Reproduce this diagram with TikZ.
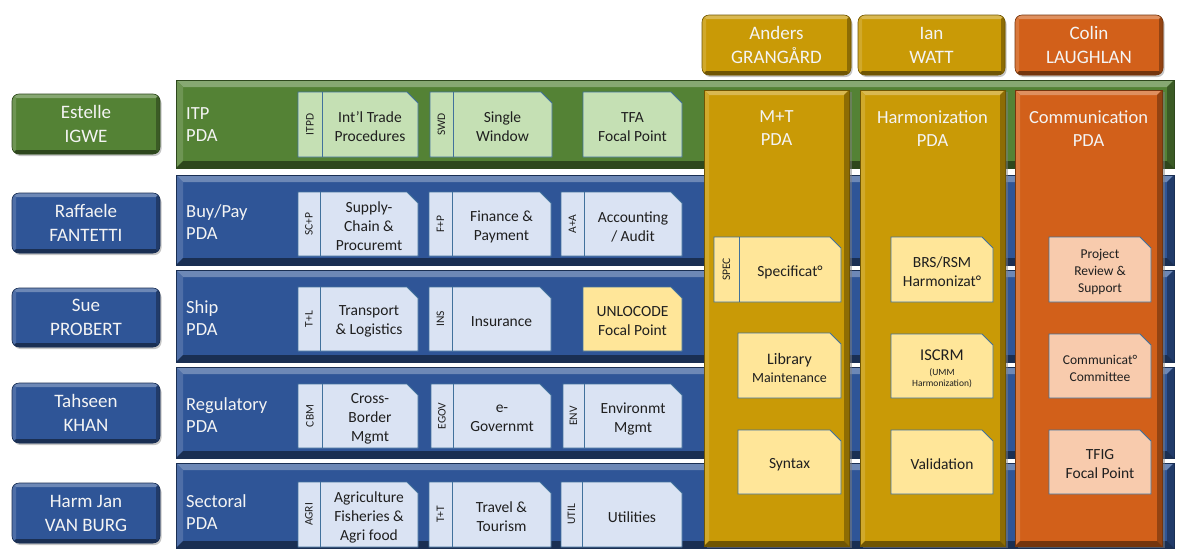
\documentclass[tikz,border=0pt]{standalone}
\usepackage{fontspec}
\setmainfont{Carlito}
\usetikzlibrary{shadows}
\definecolor{cgreen}{RGB}{84,130,53}
\definecolor{cblue}{RGB}{47,85,151}
\definecolor{cgold}{RGB}{201,154,6}
\definecolor{corange}{RGB}{210,96,26}
\definecolor{lgreen}{RGB}{197,224,180}
\definecolor{lblue}{RGB}{218,227,243}
\definecolor{lyellow}{RGB}{255,230,153}
\definecolor{lorange}{RGB}{248,203,173}
\definecolor{cline}{RGB}{65,113,156}
\definecolor{txtw}{RGB}{244,244,244}
\def\bvd{6pt}
\tikzset{
  bvd/.code={\def\bvd{#1}},
  bev/.style={fill=#1, draw=#1!55!black, line width=.6pt, inner sep=0pt,
    path picture={
      \coordinate (NW) at (path picture bounding box.north west);
      \coordinate (SE) at (path picture bounding box.south east);
      \coordinate (NE) at (path picture bounding box.north east);
      \coordinate (SW) at (path picture bounding box.south west);
      \fill[sharp corners, #1!70!white] (NW) -- (NE) -- ([shift={(-\bvd,-\bvd)}]NE) -- ([shift={(\bvd,-\bvd)}]NW) -- cycle;
      \fill[sharp corners, #1!85!white] (NW) -- ([shift={(\bvd,-\bvd)}]NW) -- ([shift={(\bvd,\bvd)}]SW) -- (SW) -- cycle;
      \fill[sharp corners, #1!70!black] (NE) -- (SE) -- ([shift={(-\bvd,\bvd)}]SE) -- ([shift={(-\bvd,-\bvd)}]NE) -- cycle;
      \fill[sharp corners, #1!55!black] (SW) -- (SE) -- ([shift={(-\bvd,\bvd)}]SE) -- ([shift={(\bvd,\bvd)}]SW) -- cycle;
    }},
  person/.style={bev=#1, bvd=4pt, rounded corners=7pt, text=txtw, align=center,
    font=\fontsize{19}{24}\selectfont, text depth=0pt,
    drop shadow={shadow xshift=1.5pt, shadow yshift=-2pt, opacity=.45}},
  rowblk/.style={bev=#1, bvd=7pt},
  colblk/.style={bev=#1, bvd=5pt,
    drop shadow={shadow xshift=3pt, shadow yshift=-2pt, opacity=.5}},
  rowlbl/.style={text=txtw, font=\fontsize{18.5}{22}\selectfont, align=left, anchor=west, inner sep=0pt, yshift=-1pt},
  collbl/.style={text=txtw, font=\fontsize{18.5}{23}\selectfont, align=center, inner sep=0pt},
  cardline/.style={draw=cline, line width=.9pt},
  cardtxt/.style={font=\fontsize{15.5}{19}\selectfont, align=center, text=black!88, inner sep=0pt, yshift=-2.5pt},
  tabtxt/.style={font=\fontsize{11.5}{13}\selectfont, text=black!88, inner sep=0pt},
}
% box from corners: name, style, x1, y1, x2, y2, text
\newcommand\bx[7]{%
  \pgfmathsetmacro\bxw{#5-#3}\pgfmathsetmacro\bxh{#6-#4}%
  \node[#2, minimum width=\bxw pt, minimum height=\bxh pt] (#1) at ({(#3+#5)/2},{(#4+#6)/2}) {#7};
}
% card with tab: name, x1, xtab, x2, y1, y2, fill, tab text, text
\newcommand\tcard[9]{%
  \filldraw[cardline, fill=#7] (#2,#6) -- (#2,#5) -- ({#4-11},#5) -- (#4,{#5+11}) -- (#4,#6) -- cycle;
  \draw[cardline] (#3,#5) -- (#3,#6);
  \node[tabtxt, rotate=90] (#1t) at ({(#2+#3)/2},{(#5+#6)/2}) {#8};
  \node[cardtxt] (#1) at ({(#3+#4)/2},{(#5+#6)/2}) {#9};
}
% card without tab: [extra options], name, x1, x2, y1, y2, fill, text
\newcommand\ncard[8][]{%
  \filldraw[cardline, fill=#7] (#3,#6) -- (#3,#5) -- ({#4-11},#5) -- (#4,{#5+11}) -- (#4,#6) -- cycle;
  \node[cardtxt,#1] (#2) at ({(#3+#4)/2},{(#5+#6)/2}) {#8};
}
\newcommand\fsz[2]{\fontsize{#1}{#2}\selectfont}
\begin{document}
\begin{tikzpicture}[x=1pt,y=-1pt]
\useasboundingbox[fill=white] (0,0) rectangle (1185,549);

% rows
\bx{itp}{rowblk=cgreen}{176}{80}{1174}{168}{}
\bx{buy}{rowblk=cblue}{176}{175}{1174}{265}{}
\bx{ship}{rowblk=cblue}{176}{270}{1174}{362}{}
\bx{reg}{rowblk=cblue}{176}{367}{1174}{458}{}
\bx{sect}{rowblk=cblue}{176}{463}{1174}{548}{}

\node[rowlbl] (itpl) at (186,124) {ITP\\PDA};
\node[rowlbl] (buyl) at (186,221) {Buy/Pay\\PDA};
\node[rowlbl] (shipl) at (186,317) {Ship\\PDA};
\node[rowlbl] (regl) at (186,414) {Regulatory\\PDA};
\node[rowlbl] (sectl) at (186,511) {Sectoral\\PDA};

% people, left
\bx{estelle}{person=cgreen}{12}{94}{160}{154}{Estelle\\IGWE}
\bx{raffaele}{person=cblue}{12}{193}{160}{253}{Raffaele\\FANTETTI}
\bx{sue}{person=cblue}{12}{288}{160}{347}{Sue\\PROBERT}
\bx{tahseen}{person=cblue}{12}{383}{160}{443}{Tahseen\\KHAN}
\bx{hjvb}{person=cblue}{12}{483}{160}{543}{Harm Jan\\VAN BURG}

% people, top
\bx{anders}{person=cgold}{702}{15}{851}{75}{Anders\\GRANGÅRD}
\bx{ian}{person=cgold}{858}{15}{1005}{75}{Ian\\WATT}
\bx{colin}{person=corange}{1015}{15}{1163}{75}{Colin\\LAUGHLAN}

% row cards
\tcard{itpd}{298}{322}{418}{92}{157}{lgreen}{ITPD}{Int’l Trade\\Procedures}
\tcard{swd}{430}{453}{552}{92}{157}{lgreen}{SWD}{Single\\Window}
\ncard{tfa}{583}{682}{92}{157}{lgreen}{TFA\\Focal Point}

\tcard{scp}{298}{320}{418}{192}{256}{lblue}{SC+P}{Supply-\\Chain \&\\Procuremt}
\tcard{fp}{429}{452}{551}{192}{256}{lblue}{F+P}{Finance \&\\Payment}
\tcard{aa}{561}{584}{682}{192}{256}{lblue}{A+A}{Accounting\\/ Audit}

\tcard{tl}{298}{320}{418}{287}{351}{lblue}{T+L}{Transport\\\& Logistics}
\tcard{ins}{429}{452}{551}{287}{351}{lblue}{INS}{Insurance}
\ncard{unlo}{583}{682}{287}{351}{lyellow}{UNLOCODE\\Focal Point}

\tcard{cbm}{298}{322}{418}{384}{448}{lblue}{CBM}{Cross-\\Border\\Mgmt}
\tcard{egov}{431}{453}{551}{384}{448}{lblue}{EGOV}{e-\\Governmt}
\tcard{env}{563}{584}{682}{384}{448}{lblue}{ENV}{Environmt\\Mgmt}

\tcard{agri}{298}{320}{418}{482}{547}{lblue}{AGRI}{Agriculture\\Fisheries \&\\Agri food}
\tcard{tt}{429}{452}{551}{482}{547}{lblue}{T+T}{Travel \&\\Tourism}
\tcard{util}{561}{582}{682}{482}{547}{lblue}{UTIL}{Utilities}

% columns
\bx{mt}{colblk=cgold}{704}{90}{849}{546}{}
\bx{harmo}{colblk=cgold}{860}{90}{1005}{546}{}
\bx{commu}{colblk=corange}{1015}{90}{1162}{546}{}

\node[collbl] (mtl) at (776.5,128.5) {M+T\\PDA};
\node[collbl] (harmol) at (932.5,128.5) {Harmonization\\PDA};
\node[collbl] (commul) at (1088.5,128.5) {Communication\\PDA};

% column cards
\tcard{spec}{714}{739}{841}{237}{302}{lyellow}{SPEC}{Specificat°}
\ncard[font=\fsz{14}{18}]{lib}{738}{841}{333}{398}{lyellow}{\fsz{16}{18}Library\\Maintenance}
\ncard{syn}{738}{841}{430}{494}{lyellow}{Syntax}

\ncard{brs}{891}{993}{237}{302}{lyellow}{BRS/RSM\\Harmonizat°}
\ncard[font=\fsz{9.5}{11}]{iscrm}{891}{993}{334}{398}{lyellow}{\fsz{16.5}{18}ISCRM\\[4pt](UMM\\Harmonization)}
\ncard{valid}{891}{993}{430}{494}{lyellow}{Validation}

\ncard[font=\fsz{13.5}{17}]{proj}{1049}{1151}{237}{302}{lorange}{Project\\Review \&\\Support}
\ncard[font=\fsz{13.5}{17}]{comm}{1049}{1151}{334}{398}{lorange}{Communicat°\\Committee}
\ncard{tfig}{1049}{1151}{430}{494}{lorange}{TFIG\\Focal Point}
\end{tikzpicture}
\end{document}
